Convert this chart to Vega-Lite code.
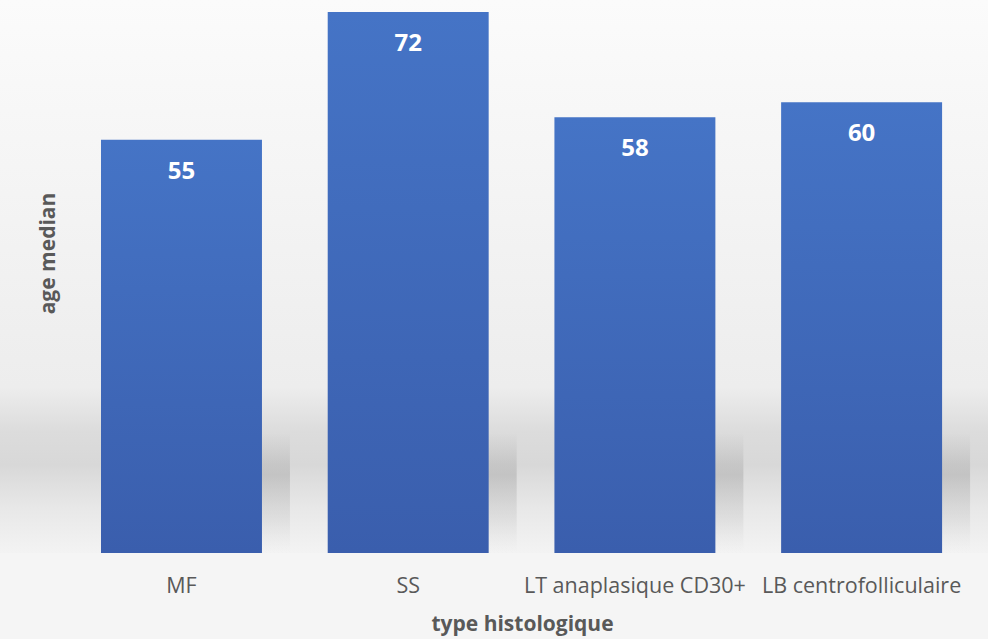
{
  "$schema": "https://vega.github.io/schema/vega-lite/v6.json",
  "width": 988,
  "height": 553,
  "autosize": "none",
  "padding": {"left": 0, "top": 0, "right": 0, "bottom": 86},
  "background": "#f5f5f5",
  "config": {
    "view": {
      "stroke": null,
      "fill": {
        "gradient": "linear",
        "x1": 0, "y1": 0, "x2": 0, "y2": 1,
        "stops": [
          {"offset": 0, "color": "#fbfbfb"},
          {"offset": 0.7, "color": "#ededed"},
          {"offset": 0.78, "color": "#dcdcdc"},
          {"offset": 0.84, "color": "#d8d8d8"},
          {"offset": 0.92, "color": "#e8e8e8"},
          {"offset": 1, "color": "#f3f3f3"}
        ]
      }
    },
    "font": "Open Sans"
  },
  "data": {
    "values": [
      {"type": "MF", "age": 55},
      {"type": "SS", "age": 72},
      {"type": "LT anaplasique CD30+", "age": 58},
      {"type": "LB centrofolliculaire", "age": 60}
    ]
  },
  "encoding": {
    "x": {
      "field": "type",
      "type": "nominal",
      "sort": null,
      "scale": {"paddingInner": 0.29, "paddingOuter": 0.324, "align": 0.6875},
      "axis": {
        "title": "type histologique",
        "titleFont": "Open Sans",
        "titleFontSize": 21,
        "titleFontWeight": "bold",
        "titleColor": "#595959",
        "titleX": 522,
        "titleY": 60,
        "titleBaseline": "top",
        "labelFont": "Open Sans",
        "labelFontSize": 21.5,
        "labelColor": "#595959",
        "labelAngle": 0,
        "labelPadding": 22,
        "labelLimit": 300,
        "ticks": false,
        "domain": false,
        "grid": false
      }
    },
    "y": {
      "field": "age",
      "type": "quantitative",
      "scale": {"domain": [0, 73.6], "nice": false},
      "axis": {
        "title": "age median",
        "titleFont": "Open Sans",
        "titleFontSize": 21,
        "titleFontWeight": "bold",
        "titleColor": "#595959",
        "titleX": 48,
        "titleY": 253,
        "titleBaseline": "middle",
        "labels": false,
        "ticks": false,
        "domain": false,
        "grid": false
      }
    }
  },
  "layer": [
    {
      "mark": {
        "type": "bar",
        "xOffset": 28,
        "fill": {
          "gradient": "linear",
          "x1": 0, "y1": 0, "x2": 0, "y2": 1,
          "stops": [
            {"offset": 0, "color": "rgba(150,150,150,0)"},
            {"offset": 0.35, "color": "rgba(150,150,150,0.35)"},
            {"offset": 0.7, "color": "rgba(170,170,170,0.2)"},
            {"offset": 1, "color": "rgba(200,200,200,0)"}
          ]
        }
      },
      "encoding": {"y": {"datum": 16}, "y2": {"datum": 0}}
    },
    {
      "mark": {
        "type": "bar",
        "fill": {
          "gradient": "linear",
          "x1": 0, "y1": 0, "x2": 0, "y2": 1,
          "stops": [
            {"offset": 0, "color": "#4574c6"},
            {"offset": 1, "color": "#3a5ead"}
          ]
        }
      }
    },
    {
      "mark": {
        "type": "text",
        "baseline": "middle",
        "align": "center",
        "dy": 32,
        "font": "Open Sans",
        "fontSize": 24,
        "fontWeight": "bold",
        "color": "#ffffff"
      },
      "encoding": {"text": {"field": "age", "type": "quantitative"}}
    }
  ]
}
